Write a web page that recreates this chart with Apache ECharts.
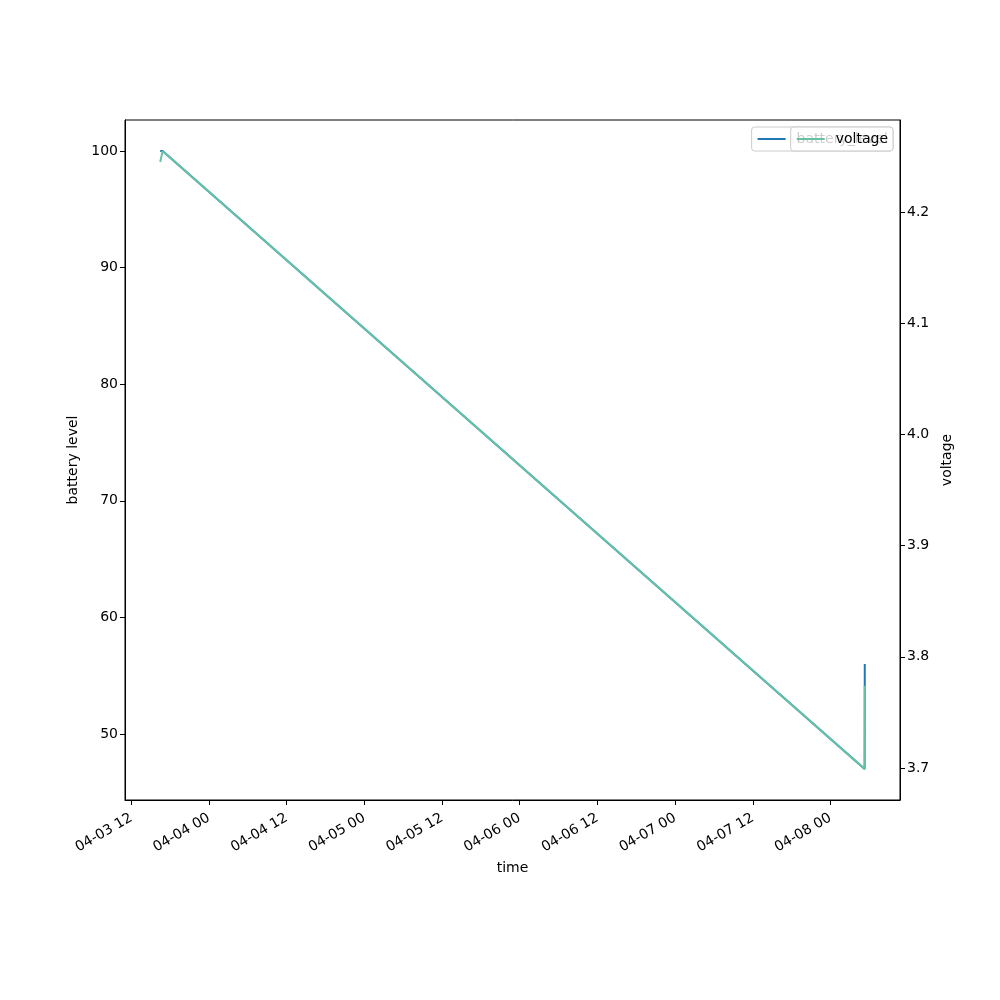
<!DOCTYPE html>
<html>
<head>
<meta charset="utf-8">
<script src="https://cdn.jsdelivr.net/npm/echarts@6/dist/echarts.min.js"></script>
<style>
html,body{margin:0;padding:0;background:#fff;}
#chart{width:1000px;height:1000px;}
</style>
</head>
<body>
<div id="chart"></div>
<script>
// ---- data ----
const times = ['2023-04-03T16:28:00Z', '2023-04-03T16:50:00Z', '2023-04-08T05:17:00Z', '2023-04-08T05:18:00Z'];
const batteryLevel = [100, 100, 47, 56];
const voltage = [4.245, 4.255, 3.699, 3.774];

const xTickTimes = ['2023-04-03T12:00:00Z', '2023-04-04T00:00:00Z', '2023-04-04T12:00:00Z', '2023-04-05T00:00:00Z',
  '2023-04-05T12:00:00Z', '2023-04-06T00:00:00Z', '2023-04-06T12:00:00Z', '2023-04-07T00:00:00Z',
  '2023-04-07T12:00:00Z', '2023-04-08T00:00:00Z'];
const xTickLabels = ['04-03 12', '04-04 00', '04-04 12', '04-05 00', '04-05 12', '04-06 00', '04-06 12', '04-07 00', '04-07 12', '04-08 00'];
const leftTicks = [50, 60, 70, 80, 90, 100];
const rightTicks = [3.7, 3.8, 3.9, 4.0, 4.1, 4.2];

// ---- build ----
const tMs = times.map(t => Date.parse(t));
const xTickMs = xTickTimes.map(t => Date.parse(t));
function padRange(arr) {
  const lo = Math.min(...arr), hi = Math.max(...arr), m = (hi - lo) * 0.05;
  return [lo - m, hi + m];
}
const xr = padRange(tMs), lr = padRange(batteryLevel), rr = padRange(voltage);

const FONT = 'DejaVu Sans';
const chart = echarts.init(document.getElementById('chart'), null, {renderer: 'canvas'});
const legendCommon = {
  orient: 'horizontal', top: 127, right: 107,
  icon: 'rect', itemWidth: 28, itemHeight: 2,
  padding: [5, 5, 5, 6],
  backgroundColor: 'rgba(255,255,255,0.8)',
  borderColor: '#cccccc', borderWidth: 1, borderRadius: 3,
  selectedMode: false,
  textStyle: {fontFamily: FONT, fontSize: 14, color: '#000', padding: [0, 0, 0, 6]}
};
chart.setOption({
  animation: false,
  backgroundColor: '#fff',
  grid: {left: 125, right: 100, top: 120, bottom: 200, show: true, borderColor: '#000', borderWidth: 1, backgroundColor: 'transparent'},
  legend: [
    Object.assign({}, legendCommon, {data: ['battery_level'], z: 10}),
    Object.assign({}, legendCommon, {data: ['voltage'], z: 20})
  ],
  xAxis: {
    type: 'value', min: xr[0], max: xr[1],
    name: 'time', nameLocation: 'middle', nameGap: 53,
    nameTextStyle: {fontFamily: FONT, fontSize: 14, color: '#000'},
    axisLine: {show: true, lineStyle: {color: '#000', width: 1}},
    axisTick: {show: true, length: 5, customValues: xTickMs, lineStyle: {color: '#000', width: 1}},
    axisLabel: {
      show: true, customValues: xTickMs, rotate: 30, margin: 17,
      fontFamily: FONT, fontSize: 14, color: '#000',
      formatter: function (v) {
        for (let i = 0; i < xTickMs.length; i++) if (Math.abs(xTickMs[i] - v) < 1000) return xTickLabels[i];
        return '';
      }
    },
    splitLine: {show: false}
  },
  yAxis: [
    {
      type: 'value', position: 'left', min: lr[0], max: lr[1],
      name: 'battery level', nameLocation: 'middle', nameGap: 44,
      nameTextStyle: {fontFamily: FONT, fontSize: 14, color: '#000'},
      axisLine: {show: true, lineStyle: {color: '#000', width: 1}},
      axisTick: {show: true, length: 5, customValues: leftTicks, lineStyle: {color: '#000', width: 1}},
      axisLabel: {show: true, customValues: leftTicks, margin: 7, fontFamily: FONT, fontSize: 14, color: '#000'},
      splitLine: {show: false}
    },
    {
      type: 'value', position: 'right', min: rr[0], max: rr[1],
      name: 'voltage', nameLocation: 'middle', nameGap: 37,
      nameTextStyle: {fontFamily: FONT, fontSize: 14, color: '#000'},
      axisLine: {show: true, lineStyle: {color: '#000', width: 1}},
      axisTick: {show: true, length: 5, customValues: rightTicks, lineStyle: {color: '#000', width: 1}},
      axisLabel: {show: true, customValues: rightTicks, margin: 7, fontFamily: FONT, fontSize: 14, color: '#000',
        formatter: v => Number(v).toFixed(1)},
      splitLine: {show: false}
    }
  ],
  series: [
    {
      name: 'battery_level', type: 'line', yAxisIndex: 0, showSymbol: false,
      color: '#1f77b4', lineStyle: {color: '#1f77b4', width: 2},
      data: tMs.map((t, i) => [t, batteryLevel[i]])
    },
    {
      name: 'voltage', type: 'line', yAxisIndex: 1, showSymbol: false,
      color: '#66c2a5', lineStyle: {color: '#66c2a5', width: 2},
      data: tMs.map((t, i) => [t, voltage[i]])
    }
  ]
});
</script>
</body>
</html>
